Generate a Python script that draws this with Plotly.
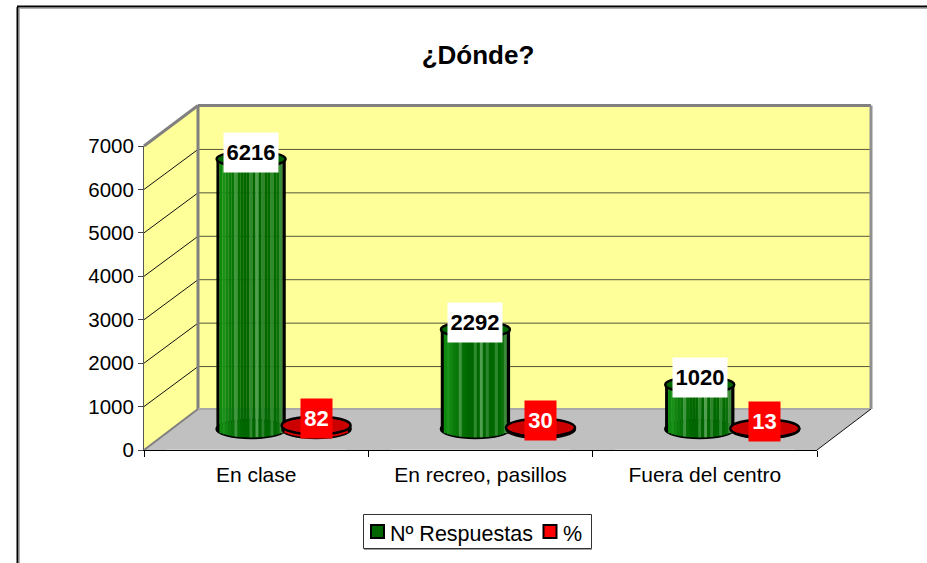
import math
import plotly.graph_objects as go

TITLE = "¿Dónde?"
categories = ["En clase", "En recreo, pasillos", "Fuera del centro"]
respuestas = [6216, 2292, 1020]
porcentaje = [82, 30, 13]
y_ticks = [0, 1000, 2000, 3000, 4000, 5000, 6000, 7000]
series_names = ["Nº Respuestas", "%"]

W, H = 927, 563
FONT = "Liberation Sans"
def px(x): return x / W
def py(y): return 1 - y / H

PX_PER_UNIT = 304 / 7000
DEPTH_Y = 40

green_shades = ["#000000", "#0f8a0f", "#1a921a", "#128512", "#0c7d0c", "#087508", "#3f963f", "#067006",
                "#006a00", "#006600", "#006600", "#2f8a2f", "#006600", "#4f9f4f", "#006600", "#2c852c",
                "#006800", "#006a00", "#2f8a2f", "#006c00", "#0a700a", "#3a8a3a", "#000000"]
red_shades = ["#000000"] + ["#e00000"] * 21 + ["#000000"]

CYL_W = 69
CAT_W = 224
N = len(green_shades)
OFFSETS = {"g": -0.143, "r": 0.147}

def slices(values, offset, colors):
    xs, ys, bases, cols = [], [], [], []
    for i, v in enumerate(values):
        for j, c in enumerate(colors):
            u = (j + 0.5) / N * 2 - 1
            sag = 8.5 * math.sqrt(1 - u * u) / PX_PER_UNIT
            xs.append(i + offset + u * CYL_W / 2 / CAT_W)
            ys.append(v + sag)
            bases.append(-sag)
            cols.append(c)
    return xs, ys, bases, cols

fig = go.Figure()

# invisible trace carries the category axis
fig.add_trace(go.Bar(x=categories, y=[0, 0, 0], xaxis="x", yaxis="y", showlegend=False,
                     hoverinfo="skip", marker_color="rgba(0,0,0,0)"))

for name, vals, key, shades in [(series_names[0], respuestas, "g", green_shades),
                                (series_names[1], porcentaje, "r", red_shades)]:
    xs, ys, bases, cols = slices(vals, OFFSETS[key], shades)
    fig.add_trace(go.Bar(x=xs, y=ys, base=bases, width=CYL_W / CAT_W / N * 1.08, name=name,
                         xaxis="x2", yaxis="y2", showlegend=False,
                         marker=dict(color=cols, line=dict(width=0))))

# legend entries: text from the legend, swatches drawn as shapes for exact placement
for name in series_names:
    fig.add_trace(go.Scatter(x=[None], y=[None], mode="markers", name=name, xaxis="x2", yaxis="y2",
                             marker=dict(symbol="square", size=12, color="rgba(0,0,0,0)",
                                         line=dict(color="rgba(0,0,0,0)", width=0))))

shapes = []
def poly(points, fill, line="rgba(0,0,0,0)", lw=0):
    path = "M " + " L ".join(f"{px(a)},{py(b)}" for a, b in points) + " Z"
    shapes.append(dict(type="path", path=path, xref="paper", yref="paper", fillcolor=fill,
                       line=dict(color=line, width=lw), layer="below"))
def seg(a, b, c, d, col, lw):
    shapes.append(dict(type="line", xref="paper", yref="paper", x0=px(a), y0=py(b), x1=px(c), y1=py(d),
                       line=dict(color=col, width=lw), layer="below"))

TOP = 105.5
BACK = 409
# walls and floor
poly([(198, TOP), (871, TOP), (871, BACK), (198, BACK)], "#ffff99")
poly([(144, 146), (198, TOP), (198, BACK), (144, 450)], "#ffff99")
poly([(144, 450), (817, 450), (871, BACK), (198, BACK)], "#c0c0c0")
# gridlines
for t in y_ticks[1:-1]:
    y = 450 - t * PX_PER_UNIT
    seg(144, y, 198, y - DEPTH_Y, "#111111", 1)
    seg(198, y - DEPTH_Y, 871, y - DEPTH_Y, "#55553a", 1)
seg(198, TOP, 871, TOP, "#808080", 3)
seg(144, 146, 198, TOP, "#808080", 3)
seg(198, TOP, 198, BACK, "#808080", 3)
seg(871, TOP, 871, BACK, "#909090", 3)
seg(198, BACK, 871, BACK, "#a8a8a8", 2)
seg(144, 450, 198, BACK, "#808080", 2)
seg(817, 450, 871, BACK, "#111111", 1)
# chart frame
seg(17.5, 7, 17.5, H, "#000000", 2)
seg(19.5, 8, 19.5, H, "#b0b0b0", 1)
seg(17, 6.5, W, 6.5, "#000000", 2)
seg(19, 8.5, W, 8.5, "#b0b0b0", 1)

# legend box and swatches
def rect(x0, y0, x1, y1, fill, col, lw):
    shapes.append(dict(type="rect", xref="paper", yref="paper", x0=px(x0), x1=px(x1), y0=py(y0), y1=py(y1),
                       fillcolor=fill, line=dict(color=col, width=lw), layer="below"))
rect(363.5, 514.5, 591.5, 548.5, "white", "#333333", 1)
seg(364, 549.5, 592, 549.5, "#a0a0a0", 1)
rect(371, 525, 384, 538, "#006600", "black", 2)
rect(543.5, 525, 556.5, 538, "#ff0000", "black", 2)

# cylinder ends, placed through the secondary axes
def ellipse(xc, yc, w, h, fill, layer):
    shapes.append(dict(type="circle", xref="x2", yref="y2", xsizemode="pixel", ysizemode="pixel",
                       xanchor=xc, yanchor=yc, x0=-w / 2, x1=w / 2, y0=-h / 2, y1=h / 2,
                       fillcolor=fill, line=dict(color="black", width=2.5), layer=layer))
for i, v in enumerate(respuestas):
    xc = i + OFFSETS["g"]
    ellipse(xc, 0, CYL_W, 18, "#006600", "below")
    ellipse(xc, v, CYL_W, 16, "#006600", "above")
for i, v in enumerate(porcentaje):
    xc = i + OFFSETS["r"]
    ellipse(xc, 0, CYL_W, 18, "#ee0000", "below")
    ellipse(xc, v, CYL_W, 18, "#cc0000", "above")

annotations = []
for i, v in enumerate(respuestas):
    annotations.append(dict(x=i + OFFSETS["g"], y=v, xref="x2", yref="y2", text=str(v), showarrow=False,
                            yshift=7, width=52, height=37, bgcolor="white",
                            font=dict(family=FONT, size=22, color="black", weight="bold")))
for i, v in enumerate(porcentaje):
    annotations.append(dict(x=i + OFFSETS["r"], y=v, xref="x2", yref="y2", text=str(v), showarrow=False,
                            yshift=7, width=29, height=37, bgcolor="#ff0000",
                            font=dict(family=FONT, size=22, color="white", weight="bold")))

fig.update_layout(
    width=W, height=H, autosize=False,
    margin=dict(l=0, r=0, t=0, b=0, autoexpand=False),
    paper_bgcolor="white", plot_bgcolor="rgba(0,0,0,0)",
    font=dict(family=FONT, color="black", size=20),
    title=dict(text=TITLE, x=478 / W, xanchor="center", y=py(55), yanchor="middle",
               font=dict(family=FONT, size=26, color="black", weight="bold")),
    barmode="overlay", hovermode=False,
    xaxis=dict(domain=[px(144), px(817)], type="category", categoryorder="array", categoryarray=categories,
               anchor="y", showgrid=False, zeroline=False, showline=True, linecolor="black", linewidth=1,
               ticks="outside", ticklen=6, tickcolor="black", tickson="boundaries", ticklabelstandoff=6,
               tickfont=dict(family=FONT, size=21), fixedrange=True),
    yaxis=dict(domain=[py(450), py(146)], range=[0, 7000], tickvals=y_ticks, anchor="x",
               showgrid=False, zeroline=False, showline=True, linecolor="#555555", linewidth=1,
               ticks="outside", ticklen=5, tickcolor="#444444", tickfont=dict(family=FONT, size=20.5),
               tickformat="d", fixedrange=True),
    xaxis2=dict(domain=[px(144 + 27), px(817 + 27)], range=[-0.5, 2.5], anchor="y2", visible=False, fixedrange=True),
    yaxis2=dict(domain=[py(429 + 18), py(125)], range=[-18 / PX_PER_UNIT, 7000], anchor="x2", visible=False, fixedrange=True),
    shapes=shapes, annotations=annotations,
    legend=dict(orientation="h", x=px(350), xanchor="left", y=py(512), yanchor="top",
                bgcolor="rgba(0,0,0,0)", borderwidth=0, font=dict(family=FONT, size=21.5),
                entrywidth=128, entrywidthmode="pixels", itemsizing="constant"),
)

fig.write_html("out.html", config=dict(displayModeBar=False),
               post_script="document.body.style.margin='0';")
